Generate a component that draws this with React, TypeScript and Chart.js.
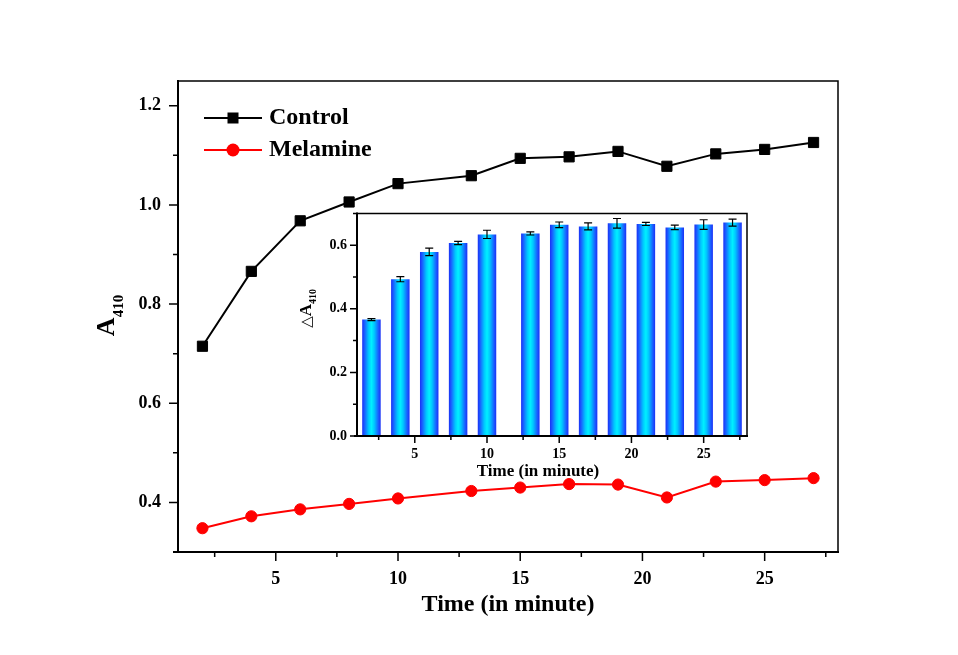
import React, { useEffect, useRef } from 'react';
import { Chart, registerables } from 'chart.js';

Chart.register(...registerables);

// ---------- data ----------
const times = [2, 4, 6, 8, 10, 13, 15, 17, 19, 21, 23, 25, 27];
const controlA410 = [0.715, 0.866, 0.968, 1.006, 1.043, 1.059, 1.094, 1.097, 1.108, 1.078, 1.103, 1.112, 1.126];
const melamineA410 = [0.348, 0.372, 0.386, 0.397, 0.408, 0.423, 0.430, 0.437, 0.436, 0.410, 0.442, 0.445, 0.449];
const deltaA410 = [0.366, 0.493, 0.579, 0.607, 0.634, 0.637, 0.664, 0.659, 0.669, 0.667, 0.656, 0.665, 0.671];
const deltaA410Err = [0.003, 0.008, 0.012, 0.005, 0.013, 0.005, 0.009, 0.011, 0.015, 0.005, 0.007, 0.015, 0.011];
const seriesNames = ['Control', 'Melamine'];
const xTitle = 'Time (in minute)';
const yTitleMain = 'A';
const yTitleSub = '410';
const insetDelta = '\u25B3';

const SERIF = "'Liberation Serif', 'Times New Roman', serif";

function framePlugin(id: string, o: { major: number; minor: number; thick: number; thin: number; extendLeft: number }) {
  return {
    id,
    afterDraw(chart: any) {
      const { ctx, chartArea: a, scales } = chart;
      ctx.save();
      ctx.strokeStyle = '#000';
      ctx.lineCap = 'butt';
      const drawTicks = (scale: any, horiz: boolean) => {
        const vals = scale.ticks.map((t: any) => t.value);
        const step = vals.length > 1 ? vals[1] - vals[0] : 0;
        const minors: number[] = [];
        vals.forEach((v: number) => {
          [v - step / 2, v + step / 2].forEach((m) => {
            if (m >= scale.min - 1e-9 && m <= scale.max + 1e-9 && !minors.some((q) => Math.abs(q - m) < 1e-9) && !vals.some((q: number) => Math.abs(q - m) < 1e-9)) minors.push(m);
          });
        });
        ctx.lineWidth = 1.5;
        ctx.beginPath();
        const seg = (v: number, len: number) => {
          const p = scale.getPixelForValue(v);
          if (horiz) {
            ctx.moveTo(p, a.bottom);
            ctx.lineTo(p, a.bottom + len);
          } else {
            ctx.moveTo(a.left, p);
            ctx.lineTo(a.left - len, p);
          }
        };
        vals.forEach((v: number) => seg(v, o.major));
        minors.forEach((v) => seg(v, o.minor));
        ctx.stroke();
      };
      drawTicks(scales.x, true);
      drawTicks(scales.y, false);
      ctx.lineWidth = o.thin;
      ctx.beginPath();
      ctx.moveTo(a.left, a.top);
      ctx.lineTo(a.right, a.top);
      ctx.lineTo(a.right, a.bottom);
      ctx.stroke();
      ctx.lineWidth = o.thick;
      ctx.beginPath();
      ctx.moveTo(a.left, a.top - 1);
      ctx.lineTo(a.left, a.bottom);
      ctx.moveTo(a.left - o.extendLeft, a.bottom);
      ctx.lineTo(a.right + 1, a.bottom);
      ctx.stroke();
      ctx.restore();
    },
  };
}

const mainTextPlugin = {
  id: 'mainText',
  afterDraw(chart: any) {
    const { ctx, chartArea: a } = chart;
    ctx.save();
    ctx.fillStyle = '#000';
    // x title
    ctx.font = `bold 24px ${SERIF}`;
    ctx.textAlign = 'center';
    ctx.textBaseline = 'alphabetic';
    ctx.fillText(xTitle, (a.left + a.right) / 2, a.bottom + 59);
    // legend
    const ds = chart.data.datasets;
    const rows = [a.top + 37, a.top + 69];
    ds.forEach((d: any, i: number) => {
      const y = rows[i];
      ctx.strokeStyle = d.borderColor;
      ctx.lineWidth = 2;
      ctx.beginPath();
      ctx.moveTo(a.left + 26, y);
      ctx.lineTo(a.left + 84, y);
      ctx.stroke();
      ctx.fillStyle = d.backgroundColor;
      if (d.pointStyle === 'rect') {
        ctx.fillRect(a.left + 55 - 5.5, y - 5.5, 11, 11);
      } else {
        ctx.beginPath();
        ctx.arc(a.left + 55, y, 6.5, 0, Math.PI * 2);
        ctx.fill();
      }
      ctx.fillStyle = '#000';
      ctx.font = `bold 24px ${SERIF}`;
      ctx.textAlign = 'left';
      ctx.textBaseline = 'middle';
      ctx.fillText(d.label, a.left + 91, y);
    });
    // y title
    ctx.translate(114, (a.top + a.bottom) / 2 - 1);
    ctx.rotate(-Math.PI / 2);
    ctx.textAlign = 'left';
    ctx.textBaseline = 'alphabetic';
    const mainFont = `bold 26px ${SERIF}`;
    const subFont = `bold 15px ${SERIF}`;
    ctx.font = mainFont;
    const wA = ctx.measureText(yTitleMain).width;
    ctx.font = subFont;
    const wS = ctx.measureText(yTitleSub).width;
    const start = -(wA + wS) / 2;
    ctx.font = mainFont;
    ctx.fillText(yTitleMain, start, 0);
    ctx.font = subFont;
    ctx.fillText(yTitleSub, start + wA, 9);
    ctx.restore();
  },
};

const insetBgPlugin = {
  id: 'insetBg',
  beforeDraw(chart: any) {
    const { ctx, chartArea: a } = chart;
    ctx.save();
    ctx.fillStyle = '#fff';
    ctx.fillRect(a.left, a.top, a.right - a.left, a.bottom - a.top);
    ctx.restore();
  },
};

const insetErrPlugin = {
  id: 'insetErr',
  afterDatasetsDraw(chart: any) {
    const { ctx, scales } = chart;
    const xs = scales.x;
    const ys = scales.y;
    ctx.save();
    ctx.strokeStyle = '#000';
    ctx.lineWidth = 1.2;
    ctx.beginPath();
    times.forEach((t, i) => {
      const x = xs.getPixelForValue(t);
      const yHi = ys.getPixelForValue(deltaA410[i] + deltaA410Err[i]);
      const yLo = ys.getPixelForValue(deltaA410[i] - deltaA410Err[i]);
      ctx.moveTo(x, yLo);
      ctx.lineTo(x, yHi);
      ctx.moveTo(x - 4, yHi);
      ctx.lineTo(x + 4, yHi);
      ctx.moveTo(x - 4, yLo);
      ctx.lineTo(x + 4, yLo);
    });
    ctx.stroke();
    ctx.restore();
  },
};

const insetTextPlugin = {
  id: 'insetText',
  afterDraw(chart: any) {
    const { ctx, chartArea: a } = chart;
    ctx.save();
    ctx.fillStyle = '#000';
    ctx.font = `bold 17px ${SERIF}`;
    ctx.textAlign = 'center';
    ctx.textBaseline = 'alphabetic';
    ctx.fillText(xTitle, a.left + 181, a.bottom + 40);
    ctx.translate(21, a.top + 95);
    ctx.rotate(-Math.PI / 2);
    ctx.textAlign = 'left';
    const dFont = `15px 'DejaVu Sans', sans-serif`;
    const aFont = `bold 17px ${SERIF}`;
    const sFont = `bold 10px ${SERIF}`;
    ctx.font = dFont;
    const wD = ctx.measureText(insetDelta).width;
    ctx.font = aFont;
    const wA = ctx.measureText(yTitleMain).width;
    ctx.font = sFont;
    const wS = ctx.measureText(yTitleSub).width;
    const start = -(wD + wA + wS) / 2;
    ctx.font = dFont;
    ctx.fillText(insetDelta, start, 0);
    ctx.font = aFont;
    ctx.fillText(yTitleMain, start + wD, 0);
    ctx.font = sFont;
    ctx.fillText(yTitleSub, start + wD + wA, 5);
    ctx.restore();
  },
};

const BAR_PCT = 0.8;
const CAT_PCT = 0.8;

function MainChart() {
  const ref = useRef<HTMLCanvasElement>(null);
  useEffect(() => {
    const tickFont = { family: SERIF, size: 18, weight: 'bold' as const };
    const chart = new Chart(ref.current as HTMLCanvasElement, {
      type: 'line',
      data: {
        datasets: [
          {
            label: seriesNames[0],
            data: times.map((t, i) => ({ x: t, y: controlA410[i] })),
            borderColor: '#000000',
            backgroundColor: '#000000',
            borderWidth: 2,
            pointStyle: 'rect',
            pointRadius: 7.2,
            pointBorderWidth: 1,
            pointBorderColor: '#000000',
            pointBackgroundColor: '#000000',
            tension: 0,
          } as any,
          {
            label: seriesNames[1],
            data: times.map((t, i) => ({ x: t, y: melamineA410[i] })),
            borderColor: '#ff0000',
            backgroundColor: '#ff0000',
            borderWidth: 2,
            pointStyle: 'circle',
            pointRadius: 5.6,
            pointBorderWidth: 1,
            pointBorderColor: '#ff0000',
            pointBackgroundColor: '#ff0000',
            tension: 0,
          } as any,
        ],
      },
      options: {
        responsive: false,
        animation: false,
        events: [],
        layout: { padding: { left: 0, top: 81, right: 120, bottom: 0 } },
        plugins: { legend: { display: false }, tooltip: { enabled: false }, title: { display: false } },
        scales: {
          x: {
            type: 'linear',
            min: 1,
            max: 28,
            afterFit: (s: any) => { s.height = 103; },
            grid: { display: false, drawTicks: false },
            border: { display: false },
            ticks: { stepSize: 5, includeBounds: false, padding: 17, font: tickFont, color: '#000', maxRotation: 0, autoSkip: false },
          },
          y: {
            type: 'linear',
            min: 0.3,
            max: 1.25,
            afterFit: (s: any) => { s.width = 178; },
            grid: { display: false, drawTicks: false },
            border: { display: false },
            ticks: {
              stepSize: 0.2,
              includeBounds: false,
              padding: 17,
              font: tickFont,
              color: '#000',
              callback: (v: any) => Number(v).toFixed(1),
            },
          },
        },
      } as any,
      plugins: [framePlugin('mainFrame', { major: 9, minor: 5, thick: 2, thin: 1.5, extendLeft: 5 }), mainTextPlugin],
    });
    return () => chart.destroy();
  }, []);
  return <canvas ref={ref} width={958} height={655} style={{ position: 'absolute', left: 0, top: 0 }} />;
}

function InsetChart() {
  const ref = useRef<HTMLCanvasElement>(null);
  useEffect(() => {
    const tickFont = { family: SERIF, size: 14, weight: 'bold' as const };
    let minGap = Infinity;
    for (let i = 1; i < times.length; i++) minGap = Math.min(minGap, times[i] - times[i - 1]);
    const chart = new Chart(ref.current as HTMLCanvasElement, {
      type: 'bar',
      data: {
        datasets: [
          {
            label: 'ΔA410',
            data: times.map((t, i) => ({ x: t, y: deltaA410[i] })),
            barPercentage: BAR_PCT,
            categoryPercentage: CAT_PCT,
            borderWidth: 0,
            backgroundColor: (c: any) => {
              const ch = c.chart;
              if (!ch.chartArea || c.type !== 'data' || !c.parsed) return '#00c8ff';
              const xs = ch.scales.x;
              const px = xs.getPixelForValue(c.parsed.x);
              const half = (xs.getPixelForValue(minGap) - xs.getPixelForValue(0)) * BAR_PCT * CAT_PCT / 2;
              const g = ch.ctx.createLinearGradient(px - half, 0, px + half, 0);
              g.addColorStop(0, '#1a30f5');
              g.addColorStop(0.12, '#1a5cff');
              g.addColorStop(0.35, '#00c8ff');
              g.addColorStop(0.5, '#00f0ff');
              g.addColorStop(0.65, '#00c8ff');
              g.addColorStop(0.88, '#1a5cff');
              g.addColorStop(1, '#1a30f5');
              return g;
            },
          } as any,
        ],
      },
      options: {
        responsive: false,
        animation: false,
        events: [],
        layout: { padding: { left: 0, top: 16, right: 13, bottom: 0 } },
        plugins: { legend: { display: false }, tooltip: { enabled: false }, title: { display: false } },
        scales: {
          x: {
            type: 'linear',
            min: 1,
            max: 28,
            offset: false,
            afterFit: (s: any) => { s.height = 49; },
            grid: { display: false, drawTicks: false },
            border: { display: false },
            ticks: { stepSize: 5, includeBounds: false, padding: 10, font: tickFont, color: '#000', maxRotation: 0, autoSkip: false },
          },
          y: {
            type: 'linear',
            min: 0,
            max: 0.7,
            afterFit: (s: any) => { s.width = 67; },
            grid: { display: false, drawTicks: false },
            border: { display: false },
            ticks: {
              stepSize: 0.2,
              includeBounds: false,
              padding: 10,
              font: tickFont,
              color: '#000',
              callback: (v: any) => Number(v).toFixed(1),
            },
          },
        },
      } as any,
      plugins: [insetBgPlugin, insetErrPlugin, framePlugin('insetFrame', { major: 7, minor: 4, thick: 2, thin: 1.5, extendLeft: 3 }), insetTextPlugin],
    });
    return () => chart.destroy();
  }, []);
  return <canvas ref={ref} width={470} height={290} style={{ position: 'absolute', left: 290, top: 195 }} />;
}

export default function App() {
  return (
    <div style={{ position: 'fixed', left: 0, top: 0, width: 958, height: 655, background: '#fff', overflow: 'hidden' }}>
      <MainChart />
      <InsetChart />
    </div>
  );
}
